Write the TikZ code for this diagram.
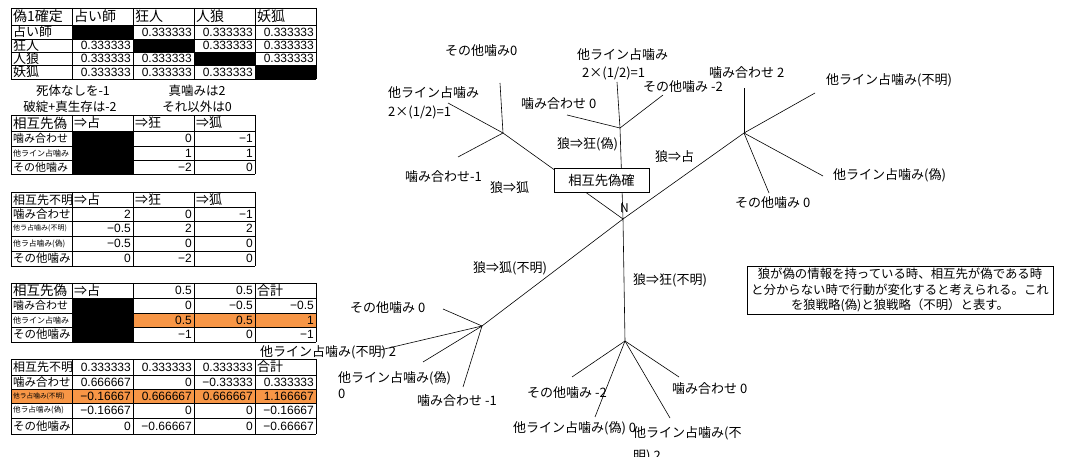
\documentclass[tikz,border=0pt]{standalone}
\usepackage{fontspec}
\setmainfont{Noto Sans CJK JP}
\newfontfamily\numfont{Liberation Sans}
\definecolor{cellorange}{RGB}{247,150,70}
\tikzset{
  grid line/.style={line width=0.8pt},
  numcell/.style={anchor=east, inner sep=0pt, font=\numfont\fontsize{12}{12}\selectfont},
  labcell/.style={anchor=west, inner sep=0pt, font=\fontsize{#1}{#1}\selectfont},
  labcell/.default=11,
  leaf/.style={anchor=west, inner sep=0pt, font=\fontsize{13}{13}\selectfont},
  branch/.style={line width=0.6pt},
}
\begin{document}
\begin{tikzpicture}[x=1pt,y=-1pt]
  \useasboundingbox (0,0) rectangle (1069,457);

  % table 1
  \fill (72,25) rectangle (133,39);
  \fill (133,39) rectangle (194,52);
  \fill (194,52) rectangle (255,65);
  \fill (255,65) rectangle (316,79);
  \foreach \y in {8,25,39,52,65,79} \draw[grid line] (11,\y) -- (316,\y);
  \foreach \x in {11,72,133,194,255,316} \draw[grid line] (\x,8) -- (\x,79);
  \foreach \x/\t [count=\i] in {13/偽1確定,74/占い師,135/狂人,196/人狼,257/妖狐}
    \node[labcell=14] (h1\i) at (\x,16.5) {\t};
  \foreach \y/\t [count=\i] in {32/占い師,45.5/狂人,58.5/人狼,72/妖狐}
    \node[labcell=13] (r1\i) at (13,\y) {\t};
  \foreach \x/\y [count=\i] in {192/32,253/32,314/32,131/45.5,253/45.5,314/45.5,
      131/58.5,192/58.5,314/58.5,131/72,192/72,253/72}
    \node[numcell] (v1\i) at (\x,\y) {0.333333};

  \node[font=\fontsize{12.5}{12.5}\selectfont] (rule1) at (73,91) {死体なしを-1};
  \node[font=\fontsize{12.5}{12.5}\selectfont] (rule2) at (197,91) {真噛みは2};
  \node[font=\fontsize{12.5}{12.5}\selectfont] (rule3) at (70,107) {破綻+真生存は-2};
  \node[font=\fontsize{12.5}{12.5}\selectfont] (rule4) at (197,107) {それ以外は0};

  % table 2
  \fill (72,131) rectangle (133,174);
  \foreach \y in {115,131,146,160,174} \draw[grid line] (11,\y) -- (255,\y);
  \foreach \x in {11,72,133,194,255} \draw[grid line] (\x,115) -- (\x,174);
  \foreach \x/\t [count=\i] in {74/⇒占,135/⇒狂,196/⇒狐}
    \node[labcell=13] (h2\i) at (\x,123) {\t};
  \node[labcell=13.5] (h20) at (13,123) {相互先偽};
  \node[labcell=11] (r21) at (13,138.5) {噛み合わせ};
  \node[labcell=8] (r22) at (13,153) {他ライン占噛み};
  \node[labcell=11] (r23) at (13,167) {その他噛み};
  \foreach \x/\y/\t [count=\i] in {192/138.5/0,253/138.5/−1,192/153/1,253/153/1,192/167/−2,253/167/0}
    \node[numcell] (v2\i) at (\x,\y) {\t};

  % table 3
  \foreach \y in {192,207,221,236,251,266} \draw[grid line] (11,\y) -- (255,\y);
  \foreach \x in {11,72,133,194,255} \draw[grid line] (\x,192) -- (\x,266);
  \node[labcell=12] (h30) at (13,199.5) {相互先不明};
  \foreach \x/\t [count=\i] in {74/⇒占,135/⇒狂,196/⇒狐}
    \node[labcell=13] (h3\i) at (\x,199.5) {\t};
  \node[labcell=11.5] (r31) at (13,214) {噛み合わせ};
  \node[labcell=7] (r32) at (13,228.5) {他ラ占噛み(不明)};
  \node[labcell=7.8] (r33) at (13,243.5) {他ラ占噛み(偽)};
  \node[labcell=11.5] (r34) at (13,258.5) {その他噛み};
  \foreach \x/\y/\t [count=\i] in {131/214/2,192/214/0,253/214/−1,
      131/228.5/−0.5,192/228.5/2,253/228.5/2,
      131/243.5/−0.5,192/243.5/0,253/243.5/0,
      131/258.5/0,192/258.5/−2,253/258.5/0}
    \node[numcell] (v3\i) at (\x,\y) {\t};

  % table 4
  \fill[cellorange] (133,313) rectangle (316,327);
  \fill (72,298) rectangle (133,342);
  \foreach \y in {283,298,313,327,342} \draw[grid line] (11,\y) -- (316,\y);
  \foreach \x in {11,72,133,194,255,316} \draw[grid line] (\x,283) -- (\x,342);
  \node[labcell=13.5] (h40) at (13,290.5) {相互先偽};
  \node[labcell=13] (h41) at (74,290.5) {⇒占};
  \node[numcell] (h42) at (192,290.5) {0.5};
  \node[numcell] (h43) at (253,290.5) {0.5};
  \node[labcell=13] (h44) at (257,290.5) {合計};
  \node[labcell=11] (r41) at (13,305.5) {噛み合わせ};
  \node[labcell=8] (r42) at (13,320) {他ライン占噛み};
  \node[labcell=11.5] (r43) at (13,334.5) {その他噛み};
  \foreach \x/\y/\t [count=\i] in {192/305.5/0,253/305.5/−0.5,314/305.5/−0.5,
      192/320/0.5,253/320/0.5,314/320/1,
      192/334.5/−1,253/334.5/0,314/334.5/−1}
    \node[numcell] (v4\i) at (\x,\y) {\t};

  % table 5
  \fill[cellorange] (11,389) rectangle (316,403);
  \foreach \y in {359,375,389,403,418,434} \draw[grid line] (11,\y) -- (316,\y);
  \foreach \x in {11,72,133,194,255,316} \draw[grid line] (\x,359) -- (\x,434);
  \node[labcell=12] (h50) at (13,367) {相互先不明};
  \foreach \x [count=\i] in {131,192,253}
    \node[numcell] (h5\i) at (\x,367) {0.333333};
  \node[labcell=13] (h54) at (257,367) {合計};
  \node[labcell=11.5] (r51) at (13,382) {噛み合わせ};
  \node[labcell=6.7] (r52) at (13,396) {他ラ占噛み(不明)};
  \node[labcell=7.6] (r53) at (13,410.5) {他ラ占噛み(偽)};
  \node[labcell=11.5] (r54) at (13,426) {その他噛み};
  \foreach \x/\y/\t [count=\i] in {131/382/0.666667,192/382/0,253/382/−0.33333,314/382/0.333333,
      131/396/−0.16667,192/396/0.666667,253/396/0.666667,314/396/1.166667,
      131/410.5/−0.16667,192/410.5/0,253/410.5/0,314/410.5/−0.16667,
      131/426/0,192/426/−0.66667,253/426/0,314/426/−0.66667}
    \node[numcell] (v5\i) at (\x,\y) {\t};

  % tree
  \coordinate (C) at (623,219);
  \coordinate (J1) at (503,133);
  \coordinate (J2) at (620,128);
  \coordinate (J3) at (744,133);
  \coordinate (J4) at (482,326);
  \coordinate (J5) at (625,341);
  \coordinate (e1a) at (500,83);
  \coordinate (e1b) at (448,103);
  \coordinate (e1c) at (458,157);
  \coordinate (e2a) at (617,82);
  \coordinate (e2b) at (663,95);
  \coordinate (e2c) at (567,115);
  \coordinate (e3a) at (744,88);
  \coordinate (e3b) at (815,93);
  \coordinate (e3c) at (823,176);
  \coordinate (e3d) at (769,193);
  \coordinate (e4a) at (443,309);
  \coordinate (e4b) at (380,350);
  \coordinate (e4c) at (423,362);
  \coordinate (e4d) at (463,387);
  \coordinate (e5a) at (572,377);
  \coordinate (e5b) at (595,417);
  \coordinate (e5c) at (670,418);
  \coordinate (e5d) at (679,377);

  \foreach \j in {J1,J2,J3,J4,J5} \draw[branch] (C) -- (\j);
  \foreach \e in {e1a,e1b,e1c} \draw[branch] (J1) -- (\e);
  \foreach \e in {e2a,e2b,e2c} \draw[branch] (J2) -- (\e);
  \foreach \e in {e3a,e3b,e3c,e3d} \draw[branch] (J3) -- (\e);
  \foreach \e in {e4a,e4b,e4c,e4d} \draw[branch] (J4) -- (\e);
  \foreach \e in {e5a,e5b,e5c,e5d} \draw[branch] (J5) -- (\e);

  \node[draw, fill=white, line width=0.8pt, minimum width=95pt, minimum height=24pt,
    font=\fontsize{13.3}{13.3}\selectfont] (root) at (601.5,180) {相互先偽確};
  \node[leaf, font=\fontsize{12}{12}\selectfont] (N) at (620,208) {N};

  \node[leaf] (lab1) at (445,51) {その他噛み0};
  \node[leaf] (lab2) at (388,93) {他ライン占噛み};
  \node[leaf] (lab2b) at (388,112) {2×(1/2)=1};
  \node[leaf] (lab3) at (405,177) {噛み合わせ-1};
  \node[leaf] (wolf1) at (490,188) {狼⇒狐};
  \node[leaf] (lab4) at (521,104) {噛み合わせ 0};
  \node[leaf] (lab5) at (577,55) {他ライン占噛み};
  \node[leaf] (lab5b) at (582,73) {2×(1/2)=1};
  \node[leaf] (lab6) at (643,87) {その他噛み -2};
  \node[leaf] (wolf2) at (557,144) {狼⇒狂(偽)};
  \node[leaf] (wolf3) at (655,157) {狼⇒占};
  \node[leaf] (lab7) at (709,73) {噛み合わせ 2};
  \node[leaf] (lab8) at (826,80) {他ライン占噛み(不明)};
  \node[leaf] (lab9) at (833,175) {他ライン占噛み(偽)};
  \node[leaf] (lab10) at (735,203) {その他噛み 0};
  \node[leaf] (wolf4) at (473,268) {狼⇒狐(不明)};
  \node[leaf] (wolf5) at (633,280) {狼⇒狂(不明)};
  \node[leaf] (lab11) at (350,308) {その他噛み 0};
  \node[leaf] (lab12) at (260,352) {他ライン占噛み(不明) 2};
  \node[leaf] (lab13) at (338,378) {他ライン占噛み(偽)};
  \node[leaf] (lab13b) at (338,394) {0};
  \node[leaf] (lab14) at (417,401) {噛み合わせ -1};
  \node[leaf] (lab15) at (527,393) {その他噛み -2};
  \node[leaf] (lab16) at (513,428) {他ライン占噛み(偽) 0};
  \node[leaf] (lab17) at (633,433) {他ライン占噛み(不};
  \node[leaf] (lab17b) at (633,456) {明) 2};
  \node[leaf] (lab18) at (672,389) {噛み合わせ 0};

  % note
  \node[draw, line width=0.8pt, minimum width=306pt, minimum height=48pt, inner sep=0pt,
    align=center, font=\fontsize{12.4}{15.5}\selectfont] (note) at (900,290)
    {狼が偽の情報を持っている時、相互先が偽である時\\
     と分からない時で行動が変化すると考えられる。これ\\
     を狼戦略(偽)と狼戦略（不明）と表す。};

\end{tikzpicture}
\end{document}
